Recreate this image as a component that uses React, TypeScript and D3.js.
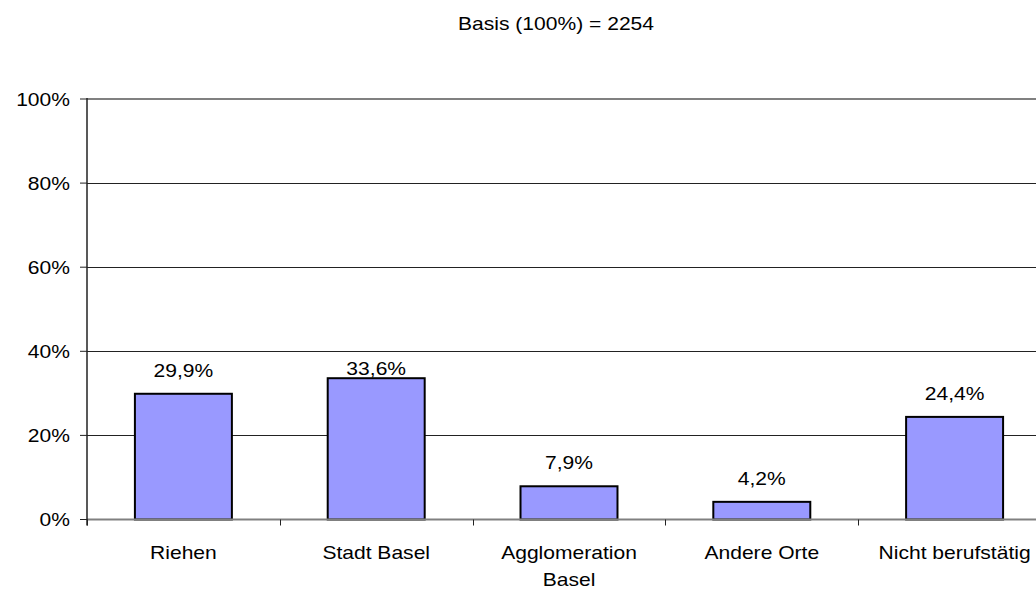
import React, { useEffect, useRef } from "react";
import * as d3 from "d3";

const categories = ["Riehen", "Stadt Basel", "Agglomeration\nBasel", "Andere Orte", "Nicht berufstätig"];
const values = [29.9, 33.6, 7.9, 4.2, 24.4];
const yTicks = [0, 20, 40, 60, 80, 100];
const title = "Basis (100%) = 2254";

const App = () => {
  const svgRef = useRef<SVGSVGElement>(null);

  useEffect(() => {
    if (!svgRef.current) return;
    const root = d3.select(svgRef.current);
    root.selectAll("*").remove();

    const W = 1036;
    const H = 591;
    const margin = { top: 99, left: 87, bottom: 71, plotRight: 1051 };
    const font = "'Liberation Sans', Arial, sans-serif";
    const stretch = 1.17; // source text is slightly wider than plain Arial

    // text helper: stretched horizontally around its anchor
    const addText = (
      parent: d3.Selection<any, unknown, null, undefined>,
      x: number,
      y: number,
      str: string,
      anchor: string
    ) =>
      parent
        .append("text")
        .attr("transform", `translate(${x},${y}) scale(${stretch},1)`)
        .attr("text-anchor", anchor)
        .style("font-family", font)
        .style("font-size", "18px")
        .attr("fill", "#000")
        .text(str);

    const x = d3
      .scaleBand()
      .domain(categories)
      .range([margin.left, margin.plotRight])
      .paddingInner(0.497)
      .paddingOuter(0.2485);

    const y = d3
      .scaleLinear()
      .domain([0, 100])
      .range([H - margin.bottom - 0.5, margin.top]);

    root.attr("width", W).attr("height", H);
    root.append("rect").attr("width", W).attr("height", H).attr("fill", "#fff");

    // title
    addText(root, 556, 30, title, "middle");

    // gridlines
    root
      .append("g")
      .selectAll("line")
      .data(yTicks.filter((t) => t > 0 && t < 100))
      .enter()
      .append("line")
      .attr("x1", margin.left)
      .attr("x2", margin.plotRight)
      .attr("y1", (d) => Math.round(y(d)) + 0.5)
      .attr("y2", (d) => Math.round(y(d)) + 0.5)
      .attr("stroke", "#222")
      .attr("stroke-width", 1);

    // top border
    root
      .append("line")
      .attr("x1", margin.left)
      .attr("x2", margin.plotRight)
      .attr("y1", y(100))
      .attr("y2", y(100))
      .attr("stroke", "#808080")
      .attr("stroke-width", 2);

    // bars
    const gridYs = yTicks.map((t) => y(t));
    root
      .append("g")
      .selectAll("rect")
      .data(values)
      .enter()
      .append("rect")
      .attr("x", (_, i) => x(categories[i])!)
      .attr("y", (d) => y(d))
      .attr("width", x.bandwidth())
      .attr("height", (d) => y(0) - y(d))
      .attr("fill", "#9999FF")
      .attr("stroke", "#000")
      .attr("stroke-width", 2);

    // value labels
    const labels = root.append("g");
    values.forEach((d, i) => {
      const base = y(d) - 17;
      const top = base - 13;
      const hitsGrid = gridYs.some((g) => g > top && g < base);
      addText(
        labels,
        x(categories[i])! + x.bandwidth() / 2,
        hitsGrid ? y(d) - 3 : base,
        d.toFixed(1).replace(".", ",") + "%",
        "middle"
      );
    });

    // x axis baseline
    root
      .append("line")
      .attr("x1", margin.left)
      .attr("x2", margin.plotRight)
      .attr("y1", y(0))
      .attr("y2", y(0))
      .attr("stroke", "#808080")
      .attr("stroke-width", 2);

    // x ticks at category boundaries
    const step = x.step();
    const bounds = d3.range(categories.length + 1).map((i) => margin.left + i * step);
    root
      .append("g")
      .selectAll("line")
      .data(bounds)
      .enter()
      .append("line")
      .attr("x1", (d) => Math.round(d) + 0.5)
      .attr("x2", (d) => Math.round(d) + 0.5)
      .attr("y1", y(0))
      .attr("y2", y(0) + 6)
      .attr("stroke", "#222")
      .attr("stroke-width", 1);

    // y axis
    root
      .append("line")
      .attr("x1", margin.left)
      .attr("x2", margin.left)
      .attr("y1", y(100) - 1)
      .attr("y2", y(0) + 6)
      .attr("stroke", "#222")
      .attr("stroke-width", 1.5);

    const yAxis = root.append("g");
    yAxis
      .selectAll("line")
      .data(yTicks)
      .enter()
      .append("line")
      .attr("x1", margin.left - 7)
      .attr("x2", margin.left)
      .attr("y1", (d) => y(d))
      .attr("y2", (d) => y(d))
      .attr("stroke", "#222")
      .attr("stroke-width", 1);
    yTicks.forEach((t) => addText(yAxis, 70, y(t) + 6.5, `${t}%`, "end"));

    // category labels
    const cat = root.append("g");
    categories.forEach((c) => {
      c.split("\n").forEach((line, i) => {
        addText(cat, x(c)! + x.bandwidth() / 2, 559 + i * 27, line, "middle");
      });
    });
  }, []);

  return (
    <svg
      ref={svgRef}
      style={{ position: "absolute", left: 0, top: 0, display: "block" }}
    ></svg>
  );
};

export default App;
